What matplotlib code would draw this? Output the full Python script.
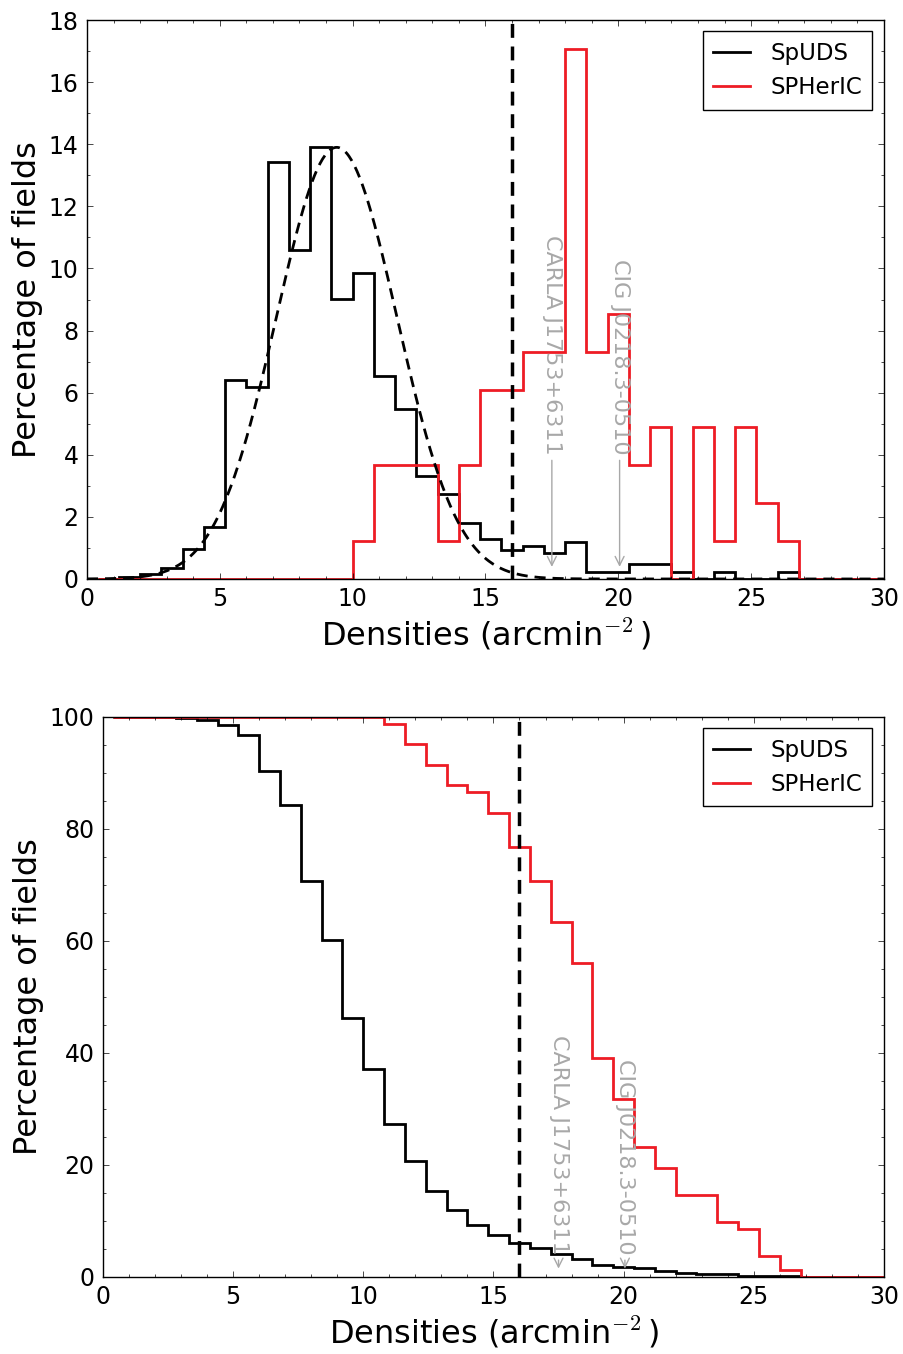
import numpy as np
import matplotlib
matplotlib.use('Agg')
import matplotlib.pyplot as plt
from matplotlib.ticker import MultipleLocator

# histogram bins (arcmin^-2), width 0.8 starting at 0.4
bin_edges = np.round(0.4 + 0.8 * np.arange(38), 2)

# percentage of fields per bin
spuds_pct = [0.0, 0.05, 0.15, 0.34, 0.95, 1.66, 6.42, 6.17, 13.43, 10.58,
             13.91, 9.02, 9.86, 6.53, 5.47, 3.33, 2.73, 1.79, 1.29, 0.92,
             1.07, 0.84, 1.19, 0.22, 0.22, 0.49, 0.49, 0.22, 0.0, 0.22,
             0.0, 0.0, 0.22, 0.0, 0.0, 0.0, 0.0]
spheric_pct = [0.0, 0.0, 0.0, 0.0, 0.0, 0.0, 0.0, 0.0, 0.0, 0.0,
               0.0, 0.0, 1.22, 3.66, 3.66, 3.66, 1.22, 3.66, 6.10, 6.10,
               7.32, 7.32, 17.07, 7.32, 8.54, 3.66, 4.88, 0.0, 4.88, 1.22,
               4.88, 2.44, 1.22, 0.0, 0.0, 0.0, 0.0]

# gaussian fit to SpUDS
gauss_amp = 13.9
gauss_mu = 9.4
gauss_sigma = 2.27

threshold = 16.0
clusters = ['CARLA J1753+6311', 'CIG J0218.3-0510']
cluster_dens = [17.5, 20.05]

plt.rcParams.update({
    'font.family': 'DejaVu Sans',
    'mathtext.fontset': 'cm',
    'xtick.direction': 'in',
    'ytick.direction': 'in',
    'xtick.top': True,
    'ytick.right': True,
    'xtick.major.size': 4,
    'ytick.major.size': 4,
    'xtick.minor.size': 2,
    'ytick.minor.size': 2,
    'xtick.major.width': 0.5,
    'ytick.major.width': 0.5,
    'xtick.minor.width': 0.5,
    'ytick.minor.width': 0.5,
    'xtick.major.pad': 6,
    'ytick.major.pad': 6,
    'axes.linewidth': 1.0,
    'xtick.labelsize': 17,
    'ytick.labelsize': 17,
})

red = '#ee1c25'
grey = '#a8a8a8'
xlab = r'Densities (arcmin$^{-2}\,$)'

fig = plt.figure(figsize=(9.04, 13.54), dpi=100)
ax1 = fig.add_axes([0.0962, 0.5724, 0.8816, 0.4128])
ax2 = fig.add_axes([0.1139, 0.0569, 0.8639, 0.4136])

# top: differential histogram
ax1.stairs(spuds_pct, bin_edges, color='k', lw=2, label='SpUDS')
ax1.stairs(spheric_pct, bin_edges, color=red, lw=2, label='SPHerIC')
xg = np.linspace(0, 30, 600)
ax1.plot(xg, gauss_amp * np.exp(-(xg - gauss_mu) ** 2 / (2 * gauss_sigma ** 2)),
         'k--', lw=2, dashes=(4, 2.5))
ax1.axvline(threshold, color='k', ls='--', lw=2.5, dashes=(4, 2.5))
for name, d in zip(clusters, cluster_dens):
    ax1.annotate(name, xy=(d, 0.3), xytext=(d, 4.0), rotation=-90,
                 ha='center', va='bottom', color=grey, fontsize=16,
                 arrowprops=dict(arrowstyle='->', color=grey, lw=1))
ax1.set_xlim(0, 30)
ax1.set_ylim(0, 18)
ax1.yaxis.set_major_locator(MultipleLocator(2))
ax1.yaxis.set_minor_locator(MultipleLocator(1))
ax1.xaxis.set_major_locator(MultipleLocator(5))
ax1.xaxis.set_minor_locator(MultipleLocator(1))
ax1.set_xlabel(xlab, fontsize=23)
ax1.set_ylabel('Percentage of fields', fontsize=23)
leg = ax1.legend(loc='upper right', fontsize=16.5, fancybox=False,
                 framealpha=1, edgecolor='k', handlelength=1.6,
                 handletextpad=0.9, borderpad=0.45)
leg.get_frame().set_linewidth(1.0)

# bottom: percentage of fields above a given density
spuds_arr = np.array(spuds_pct)
spheric_arr = np.array(spheric_pct)
spuds_cum = 100 * (1 - np.concatenate([[0], np.cumsum(spuds_arr)[:-1]]) / spuds_arr.sum())
spheric_cum = 100 * (1 - np.concatenate([[0], np.cumsum(spheric_arr)[:-1]]) / spheric_arr.sum())

ax2.stairs(spuds_cum, bin_edges, baseline=None, color='k', lw=2, label='SpUDS')
ax2.stairs(spheric_cum, bin_edges, baseline=None, color=red, lw=2, label='SPHerIC')
ax2.axvline(threshold, color='k', ls='--', lw=2.5, dashes=(4, 2.5))
for name, d in zip(clusters, cluster_dens):
    ax2.annotate(name, xy=(d, 1.0), xytext=(d, 4.0), rotation=-90,
                 ha='center', va='bottom', color=grey, fontsize=16,
                 arrowprops=dict(arrowstyle='->', color=grey, lw=1))
ax2.set_xlim(0, 30)
ax2.set_ylim(0, 100)
ax2.yaxis.set_major_locator(MultipleLocator(20))
ax2.yaxis.set_minor_locator(MultipleLocator(5))
ax2.xaxis.set_major_locator(MultipleLocator(5))
ax2.xaxis.set_minor_locator(MultipleLocator(1))
ax2.set_xlabel(xlab, fontsize=23)
ax2.set_ylabel('Percentage of fields', fontsize=23)
leg = ax2.legend(loc='upper right', fontsize=16.5, fancybox=False,
                 framealpha=1, edgecolor='k', handlelength=1.6,
                 handletextpad=0.9, borderpad=0.45)
leg.get_frame().set_linewidth(1.0)

fig.savefig('out.png', dpi=100)
